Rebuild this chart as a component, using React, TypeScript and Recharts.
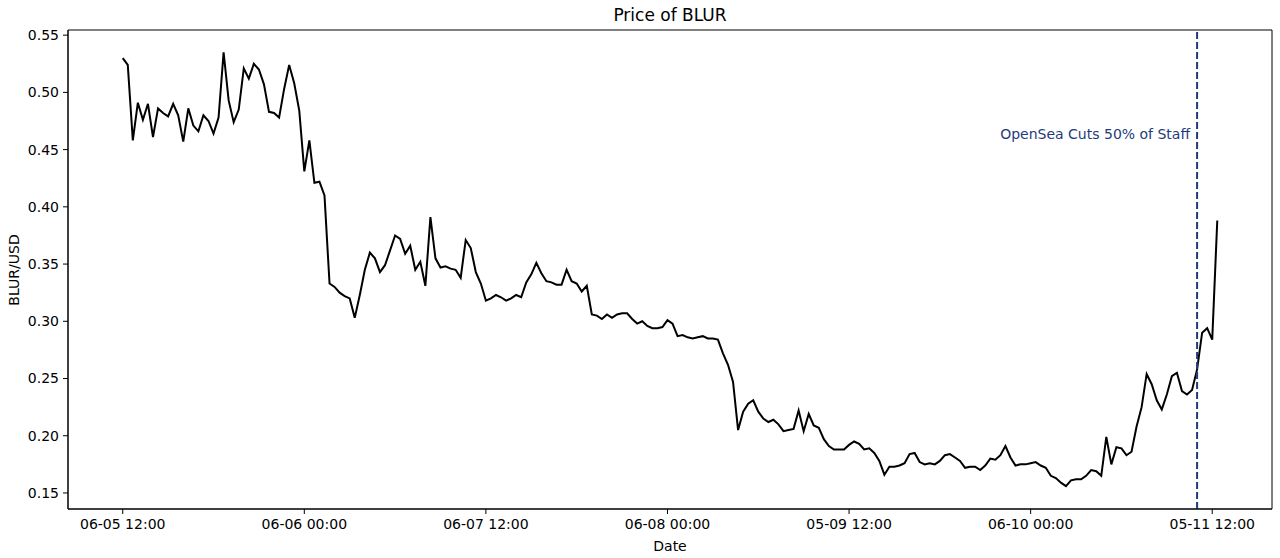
import { LineChart, Line, XAxis, YAxis, ReferenceLine, ReferenceArea } from 'recharts'

// BLUR/USD price, evenly spaced samples (36 per tick interval)
const PRICES = [
  0.530, 0.524, 0.458, 0.491, 0.476, 0.490, 0.461, 0.486, 0.482, 0.479,
  0.490, 0.480, 0.457, 0.486, 0.471, 0.466, 0.480, 0.475, 0.464, 0.478,
  0.535, 0.493, 0.474, 0.485, 0.521, 0.512, 0.525, 0.520, 0.507, 0.483,
  0.482, 0.478, 0.503, 0.524, 0.508, 0.484, 0.431, 0.458, 0.421, 0.422,
  0.410, 0.333, 0.330, 0.325, 0.322, 0.320, 0.303, 0.323, 0.345, 0.360,
  0.355, 0.343, 0.349, 0.362, 0.375, 0.372, 0.359, 0.366, 0.345, 0.352,
  0.331, 0.391, 0.355, 0.347, 0.348, 0.346, 0.345, 0.338, 0.371, 0.364,
  0.343, 0.333, 0.318, 0.320, 0.323, 0.321, 0.318, 0.320, 0.323, 0.321,
  0.334, 0.341, 0.351, 0.342, 0.335, 0.334, 0.332, 0.332, 0.345, 0.335,
  0.333, 0.326, 0.331, 0.306, 0.305, 0.302, 0.306, 0.303, 0.306, 0.307,
  0.307, 0.302, 0.298, 0.300, 0.296, 0.294, 0.294, 0.295, 0.301, 0.298,
  0.287, 0.288, 0.286, 0.285, 0.286, 0.287, 0.285, 0.285, 0.284, 0.272,
  0.262, 0.247, 0.205, 0.221, 0.228, 0.231, 0.221, 0.215, 0.212, 0.214,
  0.210, 0.204, 0.205, 0.206, 0.222, 0.204, 0.219, 0.209, 0.207, 0.197,
  0.191, 0.188, 0.188, 0.188, 0.192, 0.195, 0.193, 0.188, 0.189, 0.185,
  0.178, 0.166, 0.173, 0.173, 0.174, 0.176, 0.184, 0.185, 0.177, 0.175,
  0.176, 0.175, 0.178, 0.183, 0.184, 0.181, 0.178, 0.172, 0.173, 0.173,
  0.170, 0.174, 0.180, 0.179, 0.183, 0.191, 0.181, 0.174, 0.175, 0.175,
  0.176, 0.177, 0.174, 0.172, 0.165, 0.163, 0.159, 0.156, 0.161, 0.162,
  0.162, 0.165, 0.170, 0.169, 0.165, 0.199, 0.175, 0.190, 0.189, 0.183,
  0.186, 0.208, 0.225, 0.254, 0.245, 0.231, 0.223, 0.236, 0.252, 0.255,
  0.239, 0.236, 0.240, 0.258, 0.290, 0.294, 0.284, 0.388,
]

const TICK_LABELS = ['06-05 12:00', '06-06 00:00', '06-07 12:00', '06-08 00:00', '05-09 12:00', '06-10 00:00', '05-11 12:00']
const TICK_INDEX  = [0, 36, 72, 108, 144, 180, 216]
const Y_TICKS     = [0.15, 0.20, 0.25, 0.30, 0.35, 0.40, 0.45, 0.50, 0.55]

const EVENT_INDEX = 213
const EVENT_LABEL = 'OpenSea Cuts 50% of Staff'

const X_DOMAIN: [number, number] = [-10.85, 227.85]
const Y_DOMAIN: [number, number] = [0.136, 0.5545]

const data = PRICES.map((price, i) => ({ i, price }))

const FONT = '"DejaVu Sans", sans-serif'
const NAVY = '#1f3b7a'

function fmtTick(v: number) {
  const k = TICK_INDEX.indexOf(v)
  return k >= 0 ? TICK_LABELS[k] : ''
}

const EventLabel = ({ viewBox }: any) => {
  if (!viewBox) return null
  return (
    <text x={viewBox.x - 7} y={viewBox.y + 109} textAnchor="end" fill={NAVY} fontSize={14} fontFamily={FONT}>
      {EVENT_LABEL}
    </text>
  )
}

export default function App() {
  return (
    <div style={{ position: 'absolute', left: 0, top: 0, width: 1280, height: 558, background: '#fff', fontFamily: FONT }}>
      <div style={{ position: 'absolute', left: 68, width: 1204, top: 5, textAlign: 'center', fontSize: 17, color: '#000' }}>
        Price of BLUR
      </div>
      <div style={{ position: 'absolute', left: 68, width: 1204, top: 538, textAlign: 'center', fontSize: 14, color: '#000' }}>
        Date
      </div>
      <div style={{
        position: 'absolute', left: 14, top: 270, fontSize: 14, color: '#000',
        transform: 'translate(-50%, -50%) rotate(-90deg)', whiteSpace: 'nowrap',
      }}>
        BLUR/USD
      </div>

      <LineChart width={1280} height={558} data={data} margin={{ top: 30, right: 8, bottom: 19, left: 8 }}>
        <XAxis
          dataKey="i"
          type="number"
          domain={X_DOMAIN}
          allowDataOverflow
          ticks={TICK_INDEX}
          tickFormatter={fmtTick}
          height={30}
          tickSize={5}
          tickMargin={5}
          interval={0}
          axisLine={{ stroke: '#000' }}
          tickLine={{ stroke: '#000' }}
          tick={{ fontSize: 14, fill: '#000', fontFamily: FONT }}
        />
        <YAxis
          type="number"
          domain={Y_DOMAIN}
          allowDataOverflow
          ticks={Y_TICKS}
          tickFormatter={(v: number) => v.toFixed(2)}
          width={60}
          tickSize={5}
          tickMargin={4}
          interval={0}
          axisLine={{ stroke: '#000' }}
          tickLine={{ stroke: '#000' }}
          tick={{ fontSize: 14, fill: '#000', fontFamily: FONT }}
        />
        <ReferenceArea
          x1={X_DOMAIN[0]} x2={X_DOMAIN[1]} y1={Y_DOMAIN[0]} y2={Y_DOMAIN[1]}
          fill="none" fillOpacity={0} stroke="#000" strokeWidth={1} ifOverflow="visible"
        />
        <Line
          type="linear"
          dataKey="price"
          stroke="#000"
          strokeWidth={2}
          dot={false}
          activeDot={false}
          isAnimationActive={false}
        />
        <ReferenceLine
          x={EVENT_INDEX}
          stroke={NAVY}
          strokeWidth={2}
          strokeDasharray="7 3"
          label={<EventLabel />}
        />
      </LineChart>
    </div>
  )
}
